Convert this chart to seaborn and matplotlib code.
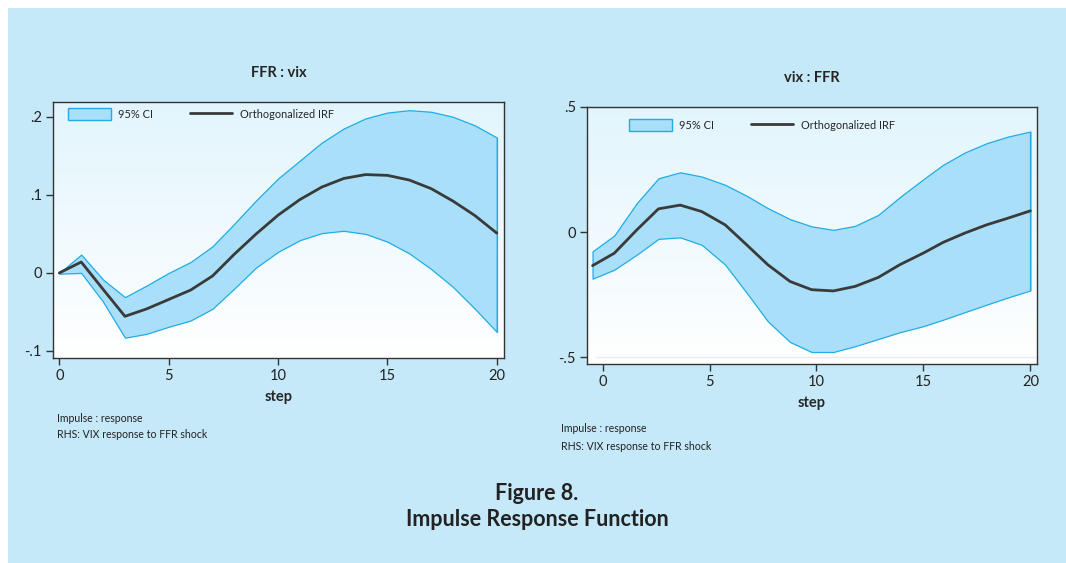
import numpy as np
import pandas as pd
import matplotlib.pyplot as plt
import matplotlib.patches as mpatches
from matplotlib.lines import Line2D
import seaborn as sns

# left panel: FFR : vix
steps_lhs = list(range(21))
irf_lhs = [0.0, 0.014, -0.021, -0.0556, -0.046, -0.034, -0.022, -0.004, 0.024, 0.050, 0.074,
           0.094, 0.110, 0.121, 0.126, 0.125, 0.119, 0.108, 0.092, 0.0735, 0.051]
upper_lhs = [0.0, 0.0235, -0.0085, -0.031, -0.016, 0.000, 0.014, 0.034, 0.063, 0.093, 0.121,
             0.144, 0.167, 0.185, 0.198, 0.2055, 0.2085, 0.2065, 0.200, 0.189, 0.1735]
lower_lhs = [-0.001, 0.000, -0.037, -0.083, -0.078, -0.069, -0.061, -0.046, -0.020, 0.007, 0.027,
             0.042, 0.051, 0.054, 0.050, 0.040, 0.025, 0.005, -0.018, -0.046, -0.0756]

# right panel: vix : FFR (points sit slightly off the integer ticks in the original)
steps_rhs = [-0.47, 0.55, 1.60, 2.61, 3.63, 4.64, 5.73, 6.74, 7.72, 8.76, 9.77,
             10.79, 11.80, 12.89, 13.90, 14.99, 15.92, 16.93, 17.95, 18.96, 20.0]
irf_rhs = [-0.134, -0.084, 0.009, 0.093, 0.108, 0.082, 0.029, -0.051, -0.130, -0.197, -0.230,
           -0.235, -0.217, -0.181, -0.130, -0.084, -0.041, -0.004, 0.029, 0.056, 0.085]
upper_rhs = [-0.077, -0.013, 0.116, 0.215, 0.239, 0.222, 0.189, 0.145, 0.096, 0.052, 0.023,
             0.009, 0.025, 0.069, 0.140, 0.211, 0.269, 0.318, 0.355, 0.382, 0.402]
lower_rhs = [-0.186, -0.150, -0.090, -0.027, -0.021, -0.051, -0.130, -0.243, -0.356, -0.439, -0.479,
             -0.479, -0.456, -0.427, -0.400, -0.376, -0.350, -0.320, -0.290, -0.261, -0.233]

x_ticks = [0, 5, 10, 15, 20]
yticks_lhs = [-0.1, 0, 0.1, 0.2]
yticklabels_lhs = ["-.1", "0", ".1", ".2"]
yticks_rhs = [-0.5, 0, 0.5]
yticklabels_rhs = ["-.5", "0", ".5"]

BG = "#c6e9f9"
FILL = "#a9dff8"
EDGE = "#20ade6"
LINE = "#3a3a3a"

sns.set_theme(style="ticks")
plt.rcParams["font.family"] = ["Lato", "DejaVu Sans"]

fig = plt.figure(figsize=(10.66, 5.63), dpi=100)
fig.patch.set_facecolor("white")
fig.add_artist(mpatches.Rectangle((8 / 1066, 0), 1 - 8 / 1066, 1 - 8 / 563,
                                  transform=fig.transFigure, facecolor=BG, edgecolor="none", zorder=0))

ax1 = fig.add_axes([53 / 1066, 1 - 358 / 563, 451 / 1066, 256 / 563])
ax2 = fig.add_axes([587 / 1066, 1 - 364 / 563, 450 / 1066, 257 / 563])

grad = np.linspace(0, 1, 256).reshape(-1, 1)
grad_cmap = sns.blend_palette(["#ffffff", "#e2f5fd"], as_cmap=True)


def draw_panel(ax, steps, irf, lo, hi, title, yticks, yticklabels, xlim, ylim, leg_anchor):
    df = pd.DataFrame({"step": steps, "irf": irf, "lo": lo, "hi": hi})
    ax.set_facecolor("white")
    ax.imshow(grad, extent=[0, 1, 0, 1], transform=ax.transAxes, cmap=grad_cmap,
              origin="lower", aspect="auto", zorder=0)
    ax.fill_between(df["step"], df["lo"], df["hi"], facecolor=FILL, edgecolor=EDGE,
                    linewidth=0.9, zorder=2)
    ax.plot([df["step"].iloc[-1]] * 2, [df["lo"].iloc[-1], df["hi"].iloc[-1]], color=EDGE, lw=0.9, zorder=2)
    sns.lineplot(data=df, x="step", y="irf", ax=ax, color=LINE, linewidth=2.0, zorder=3)
    ax.set_xlim(*xlim)
    ax.set_ylim(*ylim)
    ax.set_xticks(x_ticks)
    ax.set_yticks(yticks)
    ax.set_yticklabels(yticklabels)
    ax.tick_params(axis="both", labelsize=10.5, length=5, width=1, color="#333333",
                   labelcolor="#222222", pad=3)
    for s in ax.spines.values():
        s.set_color("#333333")
        s.set_linewidth(1.0)
    ax.set_xlabel("step", fontsize=10.5, fontweight="bold", labelpad=5)
    ax.set_ylabel("")
    ax.set_title(title, fontsize=10.5, fontweight="bold", pad=18)
    handles = [mpatches.Patch(facecolor=FILL, edgecolor=EDGE, linewidth=1.0),
               Line2D([0], [0], color=LINE, lw=2.0)]
    ax.legend(handles, ["95% CI", "Orthogonalized IRF"], loc="upper left", bbox_to_anchor=leg_anchor,
              frameon=False, ncol=2, fontsize=7.9, handlelength=3.9, handleheight=1.35,
              handletextpad=0.7, columnspacing=3.3, borderpad=0, borderaxespad=0)


draw_panel(ax1, steps_lhs, irf_lhs, lower_lhs, upper_lhs, "FFR : vix", yticks_lhs, yticklabels_lhs,
           (-0.29, 20.33), (-0.109, 0.219), (15 / 451, 1 - 6 / 256))
draw_panel(ax2, steps_rhs, irf_rhs, lower_rhs, upper_rhs, "vix : FFR", yticks_rhs, yticklabels_rhs,
           (-0.73, 20.31), (-0.527, 0.5), (42 / 450, 1 - 12 / 257))
ax2.axhline(-0.5, xmin=0.02, xmax=1, color="#e6eef2", lw=1, zorder=1)

for x, y in [(57, 418), (561, 429)]:
    fig.text(x / 1066, 1 - y / 563, "Impulse : response", fontsize=7.6, color="#222222", va="center")
    fig.text(x / 1066, 1 - (y + 17) / 563, "RHS: VIX response to FFR shock", fontsize=7.6,
             color="#222222", va="center")

fig.text(537 / 1066, 1 - 493 / 563, "Figure 8.", fontsize=15.5, fontweight="bold",
         color="#222222", ha="center", va="center")
fig.text(537 / 1066, 1 - 520 / 563, "Impulse Response Function", fontsize=15.5, fontweight="bold",
         color="#222222", ha="center", va="center")

fig.savefig("out.png", dpi=100, facecolor=fig.get_facecolor())
